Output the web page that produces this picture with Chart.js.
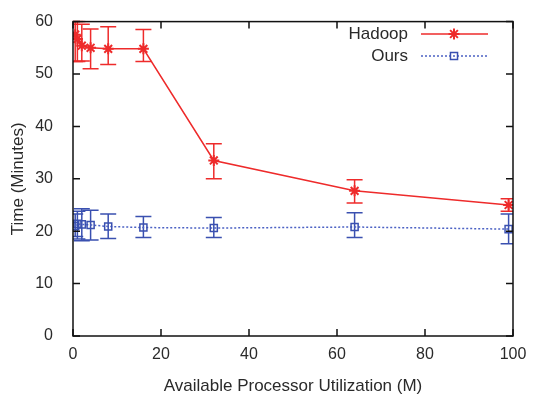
<!DOCTYPE html>
<html>
<head>
<meta charset="utf-8">
<script src="https://cdn.jsdelivr.net/npm/chart.js@4.4.0/dist/chart.umd.min.js"></script>
<style>
  html, body { margin: 0; padding: 0; background: #fff; }
  #wrap { width: 539px; height: 401px; }
</style>
</head>
<body>
<div id="wrap"><canvas id="chart" width="539" height="401"></canvas></div>
<script>
const utilization = [0.5, 1, 2, 4, 8, 16, 32, 64, 99];

const hadoopTime = [57.5, 56.7, 55.4, 55.0, 54.8, 54.8, 33.5, 27.7, 25.0];
const hadoopLow  = [52.4, 52.4, 52.5, 51.0, 51.8, 52.4, 30.0, 25.4, 23.8];
const hadoopHigh = [60.0, 60.0, 59.5, 58.6, 59.0, 58.5, 36.7, 29.8, 26.2];

const oursTime = [21.0, 21.4, 21.3, 21.2, 20.9, 20.7, 20.6, 20.8, 20.4];
const oursLow  = [19.0, 18.5, 18.2, 18.3, 18.6, 18.8, 18.8, 18.8, 17.6];
const oursHigh = [23.3, 23.8, 24.3, 24.0, 23.3, 22.8, 22.6, 23.5, 23.3];

const xTicks = [0, 20, 40, 60, 80, 100];
const yTicks = [0, 10, 20, 30, 40, 50, 60];

const red = '#ee2b2b';
const blue = '#3a50b0';
const textColor = '#2a2a2a';
const fontFamily = '"Liberation Sans", Arial, sans-serif';

const errors = [
    { low: hadoopLow, high: hadoopHigh, color: red },
    { low: oursLow, high: oursHigh, color: blue }
];

// error bars, frame with inward ticks, and the legend
const gnuplotLook = {
    id: 'gnuplotLook',
    beforeDatasetsDraw(chart) {
        const ctx = chart.ctx;
        const x = chart.scales.x, y = chart.scales.y;
        const area = chart.chartArea;
        ctx.save();
        ctx.beginPath();
        ctx.rect(area.left, area.top - 1, area.right - area.left, area.bottom - area.top + 2);
        ctx.clip();
        errors.forEach(e => {
            ctx.strokeStyle = e.color;
            ctx.lineWidth = 1.5;
            utilization.forEach((u, i) => {
                const px = x.getPixelForValue(u);
                const lo = y.getPixelForValue(e.low[i]);
                const hi = y.getPixelForValue(e.high[i]);
                ctx.beginPath();
                ctx.moveTo(px, lo); ctx.lineTo(px, hi);
                ctx.moveTo(px - 8, lo); ctx.lineTo(px + 8, lo);
                ctx.moveTo(px - 8, hi); ctx.lineTo(px + 8, hi);
                ctx.stroke();
            });
        });
        ctx.restore();
    },
    afterDraw(chart) {
        const ctx = chart.ctx;
        const x = chart.scales.x, y = chart.scales.y;
        const a = chart.chartArea;
        ctx.save();
        ctx.strokeStyle = '#111';
        ctx.lineWidth = 1.5;
        ctx.strokeRect(a.left, a.top, a.right - a.left, a.bottom - a.top);
        ctx.beginPath();
        xTicks.forEach(v => {
            const px = x.getPixelForValue(v);
            ctx.moveTo(px, a.bottom); ctx.lineTo(px, a.bottom - 7);
            ctx.moveTo(px, a.top); ctx.lineTo(px, a.top + 7);
        });
        yTicks.forEach(v => {
            const py = y.getPixelForValue(v);
            ctx.moveTo(a.left, py); ctx.lineTo(a.left + 7, py);
            ctx.moveTo(a.right, py); ctx.lineTo(a.right - 7, py);
        });
        ctx.stroke();

        // legend
        const entries = [
            { label: 'Hadoop', ds: chart.data.datasets[0], y: 34 },
            { label: 'Ours', ds: chart.data.datasets[1], y: 56 }
        ];
        ctx.font = '17px ' + fontFamily;
        ctx.textAlign = 'right';
        ctx.textBaseline = 'middle';
        entries.forEach(en => {
            ctx.fillStyle = textColor;
            ctx.fillText(en.label, 408, en.y);
            ctx.strokeStyle = en.ds.borderColor;
            ctx.lineWidth = en.ds.borderWidth;
            ctx.setLineDash(en.ds.borderDash || []);
            ctx.beginPath();
            ctx.moveTo(421, en.y); ctx.lineTo(488, en.y);
            ctx.stroke();
            ctx.setLineDash([]);
            ctx.strokeStyle = en.ds.pointBorderColor;
            ctx.fillStyle = 'rgba(0,0,0,0)';
            ctx.lineWidth = en.ds.pointBorderWidth;
            Chart.helpers.drawPoint(ctx, {
                pointStyle: en.ds.pointStyle,
                radius: en.ds.pointRadius,
                borderWidth: en.ds.pointBorderWidth,
                rotation: 0
            }, 454, en.y);
        });
        ctx.restore();
    }
};

new Chart(document.getElementById('chart'), {
    type: 'line',
    data: {
        datasets: [
            {
                label: 'Hadoop',
                data: utilization.map((u, i) => ({ x: u, y: hadoopTime[i] })),
                borderColor: red,
                backgroundColor: red,
                borderWidth: 1.5,
                pointStyle: 'star',
                pointRadius: 5.5,
                pointBorderWidth: 2,
                pointBorderColor: red,
                tension: 0
            },
            {
                label: 'Ours',
                data: utilization.map((u, i) => ({ x: u, y: oursTime[i] })),
                borderColor: '#4c62c4',
                backgroundColor: 'transparent',
                borderWidth: 1.5,
                borderDash: [2, 2],
                pointStyle: 'rect',
                pointRadius: 5,
                pointBorderWidth: 1.5,
                pointBorderColor: blue,
                pointBackgroundColor: 'transparent',
                tension: 0
            }
        ]
    },
    options: {
        responsive: false,
        animation: false,
        layout: { padding: { left: 4, right: 26, top: 20, bottom: 0 } },
        plugins: { legend: { display: false }, tooltip: { enabled: false } },
        scales: {
            x: {
                type: 'linear',
                min: 0, max: 100,
                afterBuildTicks: s => { s.ticks = xTicks.map(v => ({ value: v })); },
                afterFit: s => { s.height = 65; },
                grid: { display: false },
                border: { display: false },
                ticks: { color: textColor, font: { family: fontFamily, size: 16 }, padding: 1, maxRotation: 0 },
                title: {
                    display: true,
                    text: 'Available Processor Utilization (M)',
                    color: textColor,
                    font: { family: fontFamily, size: 17 },
                    padding: { top: 2 }
                }
            },
            y: {
                type: 'linear',
                min: 0, max: 60,
                afterBuildTicks: s => { s.ticks = yTicks.map(v => ({ value: v })); },
                afterFit: s => { s.width = 69; },
                grid: { display: false },
                border: { display: false },
                ticks: { color: textColor, font: { family: fontFamily, size: 16 }, padding: 12 },
                title: {
                    display: true,
                    text: 'Time (Minutes)',
                    color: textColor,
                    font: { family: fontFamily, size: 17 },
                    padding: { bottom: 2 }
                }
            }
        }
    },
    plugins: [gnuplotLook]
});
</script>
</body>
</html>
